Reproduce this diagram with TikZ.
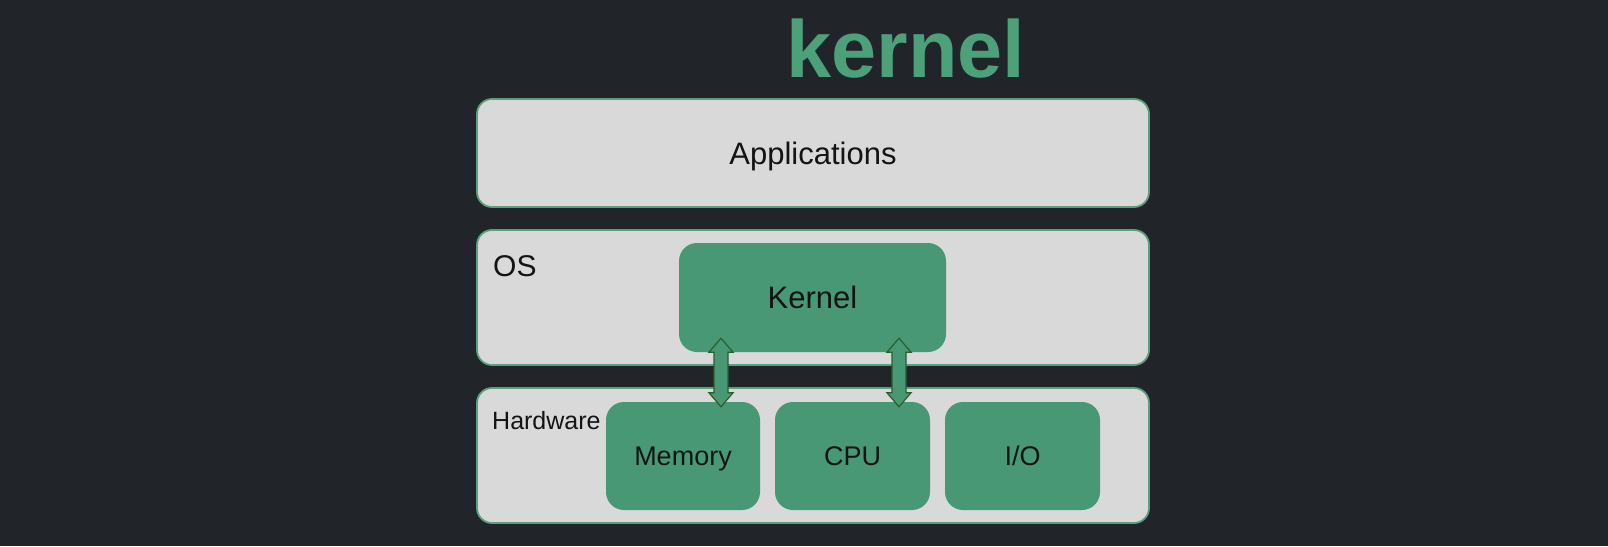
\documentclass[tikz,border=0pt]{standalone}
\usepackage{fontspec}
\setmainfont{Liberation Sans}
\usetikzlibrary{calc}
\definecolor{bg}{RGB}{33,37,41}
\definecolor{kgreen}{RGB}{72,152,117}
\definecolor{tgreen}{RGB}{76,160,122}
\definecolor{boxgrey}{RGB}{217,217,217}
\definecolor{edgegreen}{RGB}{90,160,125}
\definecolor{arrowedge}{RGB}{40,95,45}
\definecolor{ink}{RGB}{20,20,20}
\tikzset{
  layerbox/.style={draw=edgegreen, fill=boxgrey, rounded corners=15pt, line width=1.8pt, inner sep=0pt},
  compbox/.style={fill=kgreen, rounded corners=18pt, inner sep=0pt, text=ink, text depth=0pt},
  bigarrow/.style={fill=kgreen, draw=arrowedge, line width=1.2pt, line join=miter},
  lbl/.style={text=ink, inner sep=0pt}
}
\begin{document}
\begin{tikzpicture}[x=1pt,y=-1pt]
\fill[bg] (0,0) rectangle (1608,546);
\useasboundingbox (0,0) rectangle (1608,546);
% title
\node[anchor=base, inner sep=0pt, text=tgreen, font=\fontsize{81}{88}\selectfont\bfseries] (title) at (906,77) {kernel};
% layers
\node[layerbox, minimum width=672pt, minimum height=108pt, font=\fontsize{31}{36}\selectfont, text=ink, text depth=0pt] (apps) at (813,153) {Applications};
\node[layerbox, minimum width=672pt, minimum height=135pt] (os) at (813,297.5) {};
\node[layerbox, minimum width=672pt, minimum height=135pt] (hw) at (813,455.5) {};
% labels
\node[lbl, anchor=west, font=\fontsize{30}{34}\selectfont] (oslbl) at (493,266) {OS};
\node[lbl, anchor=west, font=\fontsize{25}{29}\selectfont] (hwlbl) at (492,421) {Hardware};
% components
\node[compbox, minimum width=267pt, minimum height=109pt, font=\fontsize{31}{36}\selectfont] (kernel) at (812.5,297.5) {Kernel};
\node[compbox, minimum width=154pt, minimum height=108pt, font=\fontsize{27}{31}\selectfont] (mem) at (683,456) {Memory};
\node[compbox, minimum width=155pt, minimum height=108pt, font=\fontsize{27}{31}\selectfont] (cpu) at (852.5,456) {CPU};
\node[compbox, minimum width=155pt, minimum height=108pt, font=\fontsize{27}{31}\selectfont] (io) at (1022.5,456) {I/O};
% double arrows
\coordinate (a1t) at ($(kernel.south)+(-91.5,-14)$);
\coordinate (a1b) at ($(mem.north)+(38,5)$);
\coordinate (a2t) at ($(kernel.south)+(86.5,-14)$);
\coordinate (a2b) at ($(cpu.north)+(46.5,5)$);
\foreach \t/\b in {a1t/a1b, a2t/a2b}{
  \draw[bigarrow] (\t) -- ++(12,14) -- ++(-5,0) -- ($(\b)+(7,-14)$) -- ++(5,0) -- (\b)
    -- ++(-12,-14) -- ++(5,0) -- ($(\t)+(-7,14)$) -- ++(-5,0) -- cycle;
}
\end{tikzpicture}
\end{document}
